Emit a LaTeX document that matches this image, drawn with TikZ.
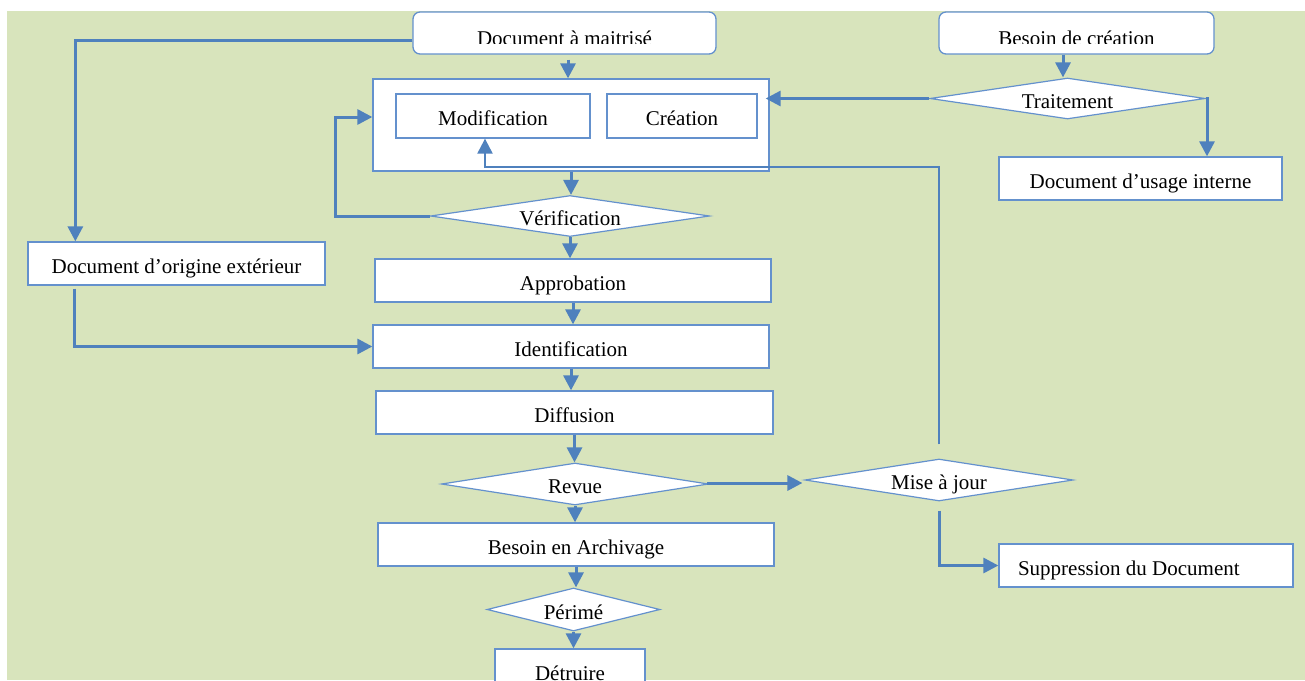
\documentclass[tikz,border=0pt]{standalone}
\usepackage{fontspec}
\setmainfont{Liberation Serif}
\usetikzlibrary{arrows.meta,shapes.geometric,calc}
\definecolor{bg}{RGB}{216,228,188}
\definecolor{flow}{RGB}{79,129,189}
\definecolor{edge}{RGB}{100,145,205}

\begin{document}
\begin{tikzpicture}[x=1pt,y=-1pt,
  font=\fontsize{21}{25}\selectfont,
  txt/.style={text height=21pt,text depth=2pt,inner sep=0pt},
  box/.style={draw=edge,line width=1.3pt,fill=white,inner sep=0pt,txt},
  rbox/.style={box,rounded corners=7pt},
  dmd/.style={diamond,draw=edge,line width=1.2pt,fill=white,inner sep=0pt},
  conn/.style={draw=flow,line width=3pt,-{Triangle[length=15pt,width=15pt]}},
  thin conn/.style={conn,line width=2.2pt},
]
\clip (0,0) rectangle (1305,680);
\fill[white] (0,0) rectangle (1305,680);
\fill[bg] (7,11) rectangle (1305,680);

% top entry boxes, their labels cut off by the lower edge
\node[rbox,minimum width=303,minimum height=42] (dm) at (564.5,33) {};
\node[rbox,minimum width=275,minimum height=42] (bc) at (1076.5,33) {};
\begin{scope}
  \clip (413,12) rectangle (716,43.5);
  \node[anchor=base,inner sep=0pt] (dmt) at (564.5,45) {Document à maitrisé};
\end{scope}
\begin{scope}
  \clip (939,12) rectangle (1214,43.5);
  \node[anchor=base,inner sep=0pt] (bct) at (1076.5,45) {Besoin de création};
\end{scope}

% processing block
\node[box,minimum width=396,minimum height=92] (cont) at (571,125) {};
\node[box,minimum width=194,minimum height=44] (mod) at (493,116) {Modification};
\node[box,minimum width=150,minimum height=44] (cre) at (682,116) {Création};

% main column
\node[dmd,minimum width=279,minimum height=41,label={[txt]center:Vérification}] (ver) at (570,216) {};
\node[box,minimum width=297,minimum height=43] (ext) at (176.5,263.5) {Document d’origine extérieur};
\node[box,minimum width=396,minimum height=43] (app) at (573,280.5) {Approbation};
\node[box,minimum width=396,minimum height=43] (idf) at (571,346.5) {Identification};
\node[box,minimum width=397,minimum height=43] (dif) at (574.5,412.5) {Diffusion};
\node[dmd,minimum width=267,minimum height=42,label={[txt]center:Revue}] (rev) at (575,484) {};
\node[box,minimum width=396,minimum height=43] (arc) at (576,544.5) {Besoin en Archivage};
\node[dmd,minimum width=173,minimum height=43,label={[txt]center:Périmé}] (per) at (573.5,609.5) {};
\node[box,minimum width=150,minimum height=52] (det) at (570,675) {};
\node[anchor=base,inner sep=0pt] (dett) at (570,680.5) {Détruire};

% right column
\node[dmd,minimum width=275,minimum height=41,label={[txt]center:Traitement}] (tra) at (1067.5,98.5) {};
\node[box,minimum width=283,minimum height=43] (usg) at (1140.5,178.5) {Document d’usage interne};
\node[dmd,minimum width=268,minimum height=42,label={[txt]center:Mise à jour}] (maj) at (939,480) {};
\node[box,minimum width=294,minimum height=43,inner xsep=19pt] (sup) at (1146,565.5) {\makebox[256pt][l]{Suppression du Document}};

% connectors
\draw[conn] ($(dm.west)+(0,7)$) -| ($(ext.north west)+(48,0)$);
\draw[conn] ($(dm.south)+(3.5,5)$) -- ($(cont.north)+(-3,0)$);
\draw[conn] ($(bc.south)+(-13.5,0)$) -- ($(tra.north)+(-4.5,0)$);
\draw[conn] (tra.west) -- ($(tra.west -| cont.east)+(-4,0)$);
\draw[conn] (tra.east) -| ($(usg.north)+(66.5,0)$);
\draw[conn] (cont.south) -- (cont.south |- ver.north);
\draw[conn] (ver.west) -- ++(-94,0) |- ($(cont.west)+(0,-8)$);
\draw[conn] (ver.south) -- (ver.south |- app.north);
\draw[conn] (app.south) -- (app.south |- idf.north);
\draw[conn] ($(ext.south west)+(47,3)$) |- (idf.west);
\draw[conn] (idf.south) -- (idf.south |- dif.north);
\draw[conn] (dif.south) -- (dif.south |- rev.north);
\draw[conn] ($(rev.east)+(-2,-1)$) -- ($(rev.east -| maj.west)+(-2,-1)$);
\draw[conn] (rev.south) -- (rev.south |- arc.north);
\draw[conn] (arc.south) -- (arc.south |- per.north);
\draw[conn] (per.south) -- (per.south |- det.north);
\draw[thin conn] ($(maj.north)+(0,-14)$) |- ($(mod.south)+(-8,28)$) -- ($(mod.south)+(-8,0)$);
\draw[conn] ($(maj.south)+(0,9)$) |- (sup.west);
\end{tikzpicture}
\end{document}
